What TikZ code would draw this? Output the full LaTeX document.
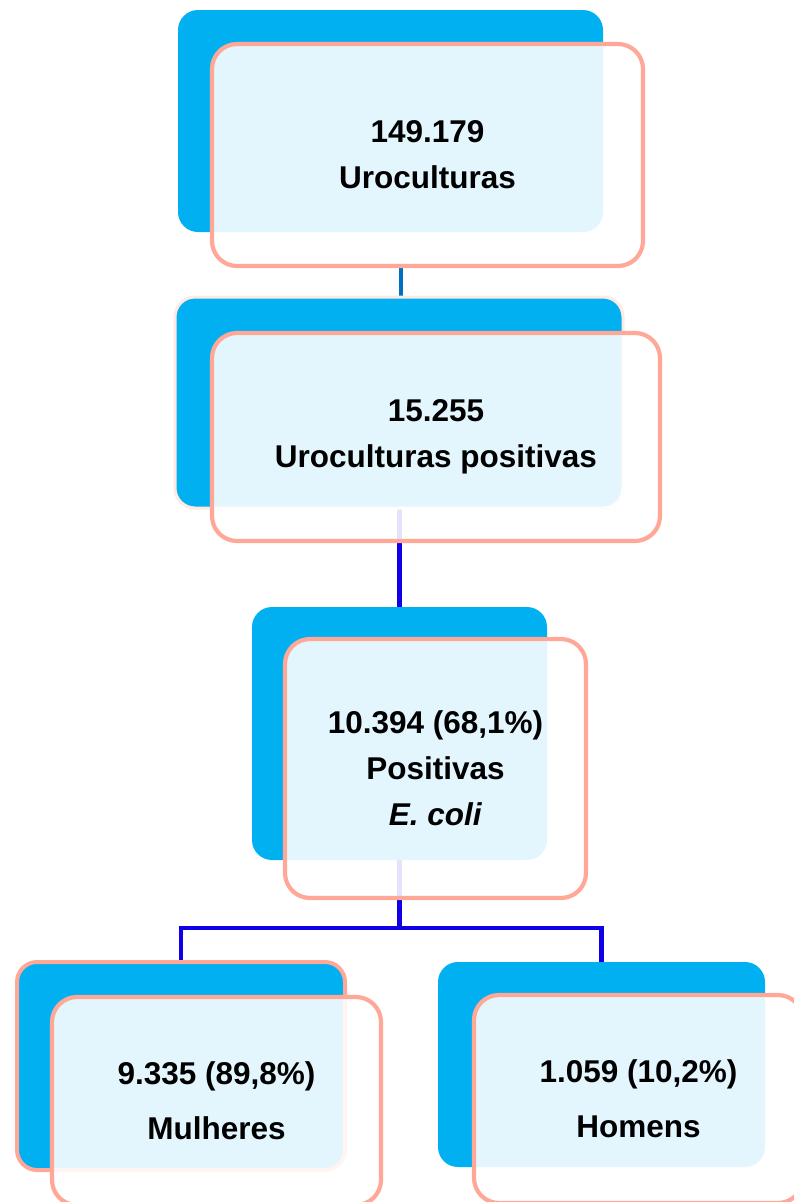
\documentclass[tikz,border=0pt]{standalone}
\usepackage{fontspec}
\setmainfont{Liberation Sans}
\usetikzlibrary{positioning, backgrounds}
\definecolor{ceu}{HTML}{00B0F0}
\definecolor{salmao}{HTML}{FFA898}
\definecolor{marinho}{HTML}{0070C0}
\definecolor{anil}{HTML}{1000E8}

\begin{document}
\begin{tikzpicture}[x=1pt, y=1pt,
      fundo/.style={fill=ceu, rounded corners=20pt, inner sep=0pt, outer sep=0pt},
      caixa/.style={draw=salmao, line width=4.2pt, rounded corners=25pt,
        fill=white, fill opacity=0.89, text opacity=1, text=black, align=center,
        font=\fontsize{31.5}{46}\selectfont\bfseries, inner sep=0pt, outer sep=0pt},
      ligacao/.style={anil, line width=4.5pt}]
    \path[use as bounding box] (0,0) rectangle (794,-1202);
    \clip (0,0) rectangle (794,-1202);
    % caixas de fundo
    \node[fundo, minimum width=425pt, minimum height=222pt] (total) at (390.5,-121) {};
    \node[fundo, draw=salmao!25, line width=3pt, minimum width=448pt, minimum height=211pt] (positivas) at (399,-402.5) {};
    \node[fundo, minimum width=295pt, minimum height=253pt] (ecoli) at (399.5,-733.5) {};
    \node[fundo, draw=salmao, line width=4pt, minimum width=328pt, minimum height=208pt] (mulheres) at (181,-1066) {};
    \node[fundo, minimum width=327pt, minimum height=205pt] (homens) at (601.5,-1064.5) {};
    % caixas da frente
    \node[caixa, minimum width=431pt, minimum height=222pt, xshift=37pt, yshift=-34pt] (totalf) at (total)
      {149.179\\Uroculturas};
    \node[caixa, minimum width=448pt, minimum height=208pt, xshift=37pt, yshift=-34.5pt] (positivasf) at (positivas)
      {15.255\\Uroculturas positivas};
    \node[caixa, minimum width=301pt, minimum height=259pt, xshift=36pt, yshift=-35pt] (ecolif) at (ecoli)
      {10.394 (68,1\%)\\Positivas\\\textit{E. coli}};
    \node[caixa, minimum width=329pt, minimum height=208pt, xshift=35.5pt, yshift=-35pt] (mulheresf) at (mulheres)
      {9.335 (89,8\%)\\[9pt]Mulheres};
    \node[caixa, minimum width=329pt, minimum height=208pt, xshift=37pt, yshift=-34.5pt] (homensf) at (homens)
      {1.059 (10,2\%)\\[9pt]Homens};
    % ligacoes
    \begin{scope}[on background layer]
      \draw[ligacao, marinho] ([xshift=2pt]positivas.north) -- ([xshift=2pt]positivas.north |- totalf.south);
      \draw[ligacao] (ecoli.north) -- (ecoli.north |- positivas.south);
      \coordinate[below=68pt of ecoli.south] (ramo);
      \draw[ligacao] (ecoli.south) -- (ramo);
      \draw[ligacao] (mulheres.north) |- (ramo) -| (homens.north);
    \end{scope}
  \end{tikzpicture}
\end{document}
